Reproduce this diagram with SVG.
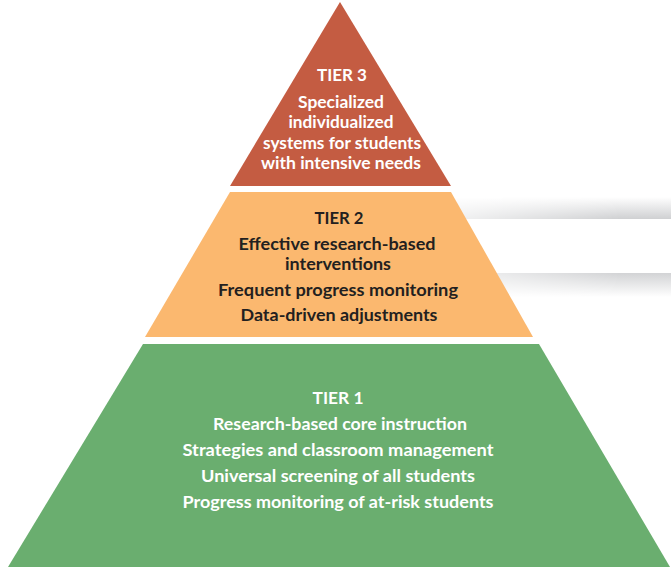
<svg xmlns="http://www.w3.org/2000/svg" width="671" height="568" viewBox="0 0 671 568">
  <style>
    .t { font-family: Lato, "Liberation Sans", sans-serif; font-weight: bold; font-size: 17px; text-anchor: middle; }
    .w { fill: #ffffff; }
    .d { fill: #231f20; }
  </style>
  <defs>
    <linearGradient id="shTop" x1="0" y1="0" x2="0" y2="1">
      <stop offset="0" stop-color="#ffffff"/>
      <stop offset="1" stop-color="#cfd0d2"/>
    </linearGradient>
    <linearGradient id="shBot" x1="0" y1="0" x2="0" y2="1">
      <stop offset="0" stop-color="#d2d3d5"/>
      <stop offset="1" stop-color="#ffffff"/>
    </linearGradient>
    <linearGradient id="fadeX" gradientUnits="userSpaceOnUse" x1="455" y1="0" x2="620" y2="0">
      <stop offset="0" stop-color="#ffffff" stop-opacity="0.3"/>
      <stop offset="1" stop-color="#ffffff" stop-opacity="1"/>
    </linearGradient>
    <mask id="fadeMask">
      <rect x="440" y="190" width="231" height="115" fill="url(#fadeX)"/>
    </mask>
  </defs>
  <rect width="671" height="568" fill="#ffffff"/>

  <g id="shadow-bar" mask="url(#fadeMask)">
    <rect x="450" y="197" width="221" height="22" fill="url(#shTop)"/>
    <rect x="450" y="273" width="221" height="24" fill="url(#shBot)"/>
  </g>

  <g id="tier3">
    <polygon points="340,2 451,186 230,186" fill="#c45c42"/>
    <text class="t w" x="342" y="81" textLength="50" lengthAdjust="spacingAndGlyphs">TIER 3</text>
    <text class="t w" x="341" y="108" textLength="86" lengthAdjust="spacingAndGlyphs">Specialized</text>
    <text class="t w" x="341" y="128" textLength="105" lengthAdjust="spacingAndGlyphs">individualized</text>
    <text class="t w" x="342" y="149" textLength="158" lengthAdjust="spacingAndGlyphs">systems for students</text>
    <text class="t w" x="341" y="169" textLength="160" lengthAdjust="spacingAndGlyphs">with intensive needs</text>
  </g>

  <g id="tier2">
    <polygon points="230,192 451,192 533,337 145,337" fill="#fbb86f"/>
    <text class="t d" x="339" y="224" textLength="49" lengthAdjust="spacingAndGlyphs">TIER 2</text>
    <text class="t d" x="337" y="250" textLength="197" lengthAdjust="spacingAndGlyphs">Effective research-based</text>
    <text class="t d" x="338" y="270" textLength="106" lengthAdjust="spacingAndGlyphs">interventions</text>
    <text class="t d" x="338" y="296" textLength="240" lengthAdjust="spacingAndGlyphs">Frequent progress monitoring</text>
    <text class="t d" x="339" y="321" textLength="197" lengthAdjust="spacingAndGlyphs">Data-driven adjustments</text>
  </g>

  <g id="tier1">
    <polygon points="143,344 539,344 670,567 8,567" fill="#6aae6f"/>
    <text class="t w" x="338" y="404" textLength="51" lengthAdjust="spacingAndGlyphs">TIER 1</text>
    <text class="t w" x="340" y="430" textLength="254" lengthAdjust="spacingAndGlyphs">Research-based core instruction</text>
    <text class="t w" x="338" y="456" textLength="311" lengthAdjust="spacingAndGlyphs">Strategies and classroom management</text>
    <text class="t w" x="338" y="482" textLength="274" lengthAdjust="spacingAndGlyphs">Universal screening of all students</text>
    <text class="t w" x="338" y="508" textLength="311" lengthAdjust="spacingAndGlyphs">Progress monitoring of at-risk students</text>
  </g>

  <g id="connectors"/>
</svg>
